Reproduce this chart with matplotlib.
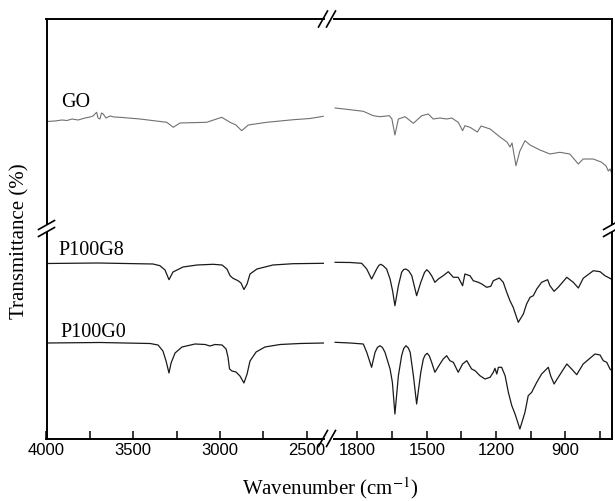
import numpy as np
import matplotlib
matplotlib.use("Agg")
import matplotlib.pyplot as plt
from matplotlib.lines import Line2D
from matplotlib.patches import Polygon
from matplotlib.ticker import MultipleLocator

go_hi_wn = [4000, 3951, 3911, 3882, 3853, 3818, 3778, 3749, 3732, 3711, 3703, 3692, 3683,
            3673, 3657, 3634, 3611, 3576, 3461, 3307, 3269, 3231, 3077, 2990, 2942, 2908,
            2875, 2837, 2731, 2577, 2481, 2405]
go_hi_t = [317.5, 318, 319, 318.5, 320, 319, 321, 322, 323, 326.7, 321, 320, 326,
           325, 321, 323, 322, 321.7, 320, 316.7, 311.7, 316, 316.7, 321.7, 316.7, 314,
           308.3, 314, 316.7, 319.3, 320.5, 322.7]

go_lo_wn = [1897, 1832, 1775, 1732, 1703, 1662, 1651, 1638, 1623, 1594, 1558, 1522, 1494,
            1472, 1443, 1414, 1392, 1364, 1345, 1335, 1313, 1281, 1265, 1226, 1183, 1153,
            1140, 1131, 1114, 1097, 1075, 1053, 1010, 967, 924, 881, 844, 823, 779, 743,
            724, 714, 707, 700]
go_lo_t = [331, 329.3, 327.7, 323.3, 322.3, 323.3, 320, 304, 320, 322.3, 315.7, 323.3, 325,
           320, 321, 320, 321, 316.7, 308.3, 313.3, 311.7, 307, 313, 310, 302, 297,
           292, 296, 273.3, 288, 298.3, 294, 289, 285, 286.7, 285, 275, 280, 280, 276.7,
           273, 268, 270, 266]

g8_hi_wn = [4000, 3703, 3386, 3346, 3317, 3294, 3271, 3213, 3133, 3040, 2988, 2960, 2942,
            2925, 2896, 2879, 2862, 2844, 2827, 2787, 2695, 2579, 2401]
g8_hi_t = [175.5, 176, 175, 173.3, 169, 159.3, 167, 172, 174, 174.7, 174, 170, 163.3,
           160.7, 158.3, 156, 149.5, 155, 165, 170, 174, 175.3, 175.7]

g8_lo_wn = [1897, 1832, 1782, 1760, 1739, 1717, 1708, 1700, 1690, 1674, 1659, 1648, 1638,
            1623, 1609, 1600, 1590, 1578, 1565, 1544, 1526, 1510, 1500, 1490, 1479, 1465,
            1450, 1429, 1407, 1385, 1364, 1345, 1335, 1313, 1299, 1277, 1262, 1241, 1223,
            1212, 1186, 1169, 1154, 1140, 1126, 1104, 1082, 1068, 1053, 1039, 1024, 1003,
            977, 967, 949, 931, 894, 866, 844, 823, 779, 750, 729, 707, 702]
g8_lo_t = [176.7, 176.5, 175.7, 170, 160, 170, 173.5, 174.7, 173.5, 170, 160, 148, 133.3,
           153.3, 166.7, 169.5, 170, 168, 163.3, 143.3, 156.7, 166.5, 169.3, 167, 163.3, 156.7,
           160, 163.3, 167.3, 161.7, 161.7, 153.3, 165, 163.3, 158.3, 156.7, 155, 151.7, 152.7,
           158.3, 161, 156.7, 146.7, 138.3, 131.7, 116.7, 125, 135, 141.7, 143.3, 150, 156.7,
           159.3, 153.3, 147.7, 151.7, 161.7, 156.7, 151, 160.7, 168.3, 167.3, 163.3, 160.7, 160]

g0_hi_wn = [4000, 3692, 3403, 3357, 3329, 3311, 3294, 3282, 3259, 3219, 3144, 3086, 3058,
            3029, 2988, 2965, 2954, 2945, 2931, 2908, 2885, 2862, 2844, 2827, 2792, 2741,
            2654, 2539, 2401]
g0_hi_t = [96, 96.5, 95.5, 94, 88, 78, 66, 76, 86, 92, 95, 94.5, 93,
           94.5, 94, 90, 82, 70, 68, 67, 63, 56, 65, 78, 87, 92,
           94.5, 95.5, 96]

g0_lo_wn = [1897, 1832, 1775, 1760, 1739, 1724, 1714, 1703, 1692, 1681, 1659, 1649, 1638,
            1623, 1609, 1600, 1590, 1580, 1572, 1558, 1544, 1526, 1515, 1507, 1498, 1489,
            1479, 1465, 1443, 1429, 1414, 1400, 1385, 1364, 1345, 1327, 1306, 1291, 1270,
            1248, 1226, 1212, 1205, 1197, 1190, 1176, 1161, 1147, 1132, 1118, 1097, 1075,
            1061, 1046, 1024, 1003, 974, 964, 949, 931, 894, 873, 851, 823, 772, 750, 736,
            721, 707, 702]
g0_lo_t = [96.7, 96, 95, 86.7, 71.7, 86.7, 91.5, 93.3, 91.5, 86.7, 70, 56.7, 25,
           63.3, 83.3, 90.5, 93.3, 91, 86.7, 63.3, 35, 66.7, 80, 84, 85.7, 83,
           76.7, 66.7, 75, 80, 83.3, 78.3, 76.7, 66.7, 75, 78.3, 70, 68.3, 63.3,
           60, 61.7, 66.7, 70.7, 65, 71.7, 71.7, 63.3, 46.7, 33.3, 25, 10, 26.7,
           43.3, 46.7, 56.7, 65, 71.7, 63.3, 55, 61.7, 75, 70, 64.3, 75, 85, 84, 78.3,
           76.7, 70, 69]

labels = ["GO", "P100G8", "P100G0"]

# --- estilo ---
plt.rcParams['mathtext.fontset'] = 'stix'
SERIF = ['Liberation Serif', 'DejaVu Serif']
SANS = ['Liberation Sans', 'DejaVu Sans']

W, H = 615, 502
fig = plt.figure(figsize=(W / 100, H / 100), dpi=100)


def px(x, y):
    # pixel -> fraccion de figura
    return x / W, 1 - y / H


# ejes partidos: 4000-2400 y 1900-700
x0, y0 = px(46.5, 439.5)
ax1 = fig.add_axes([x0, y0, (324.1 - 46.5) / W, 419.5 / H])
ax2 = fig.add_axes([334.4 / W, y0, (611.6 - 334.4) / W, 419.5 / H])

ax1.plot(go_hi_wn, go_hi_t, color='#707070', lw=0.8)
ax1.plot(g8_hi_wn, g8_hi_t, color='#1a1a1a', lw=0.9)
ax1.plot(g0_hi_wn, g0_hi_t, color='#1a1a1a', lw=0.9)
ax2.plot(go_lo_wn, go_lo_t, color='#707070', lw=0.8)
ax2.plot(g8_lo_wn, g8_lo_t, color='#1a1a1a', lw=0.9)
ax2.plot(g0_lo_wn, g0_lo_t, color='#1a1a1a', lw=0.9)

ax1.set_xlim(4000, 2400)
ax2.set_xlim(1900, 700)
ax1.xaxis.set_major_locator(MultipleLocator(500))
ax1.xaxis.set_minor_locator(MultipleLocator(250))
ax2.set_xticks([1800, 1500, 1200, 900])
ax2.set_xticks([1650, 1350, 1050, 750], minor=True)
for ax in (ax1, ax2):
    ax.set_ylim(0.5, 420)
    ax.set_yticks([])
    ax.tick_params(axis='x', which='both', direction='in', length=5.5, width=1.1,
                   top=False, pad=2.5, labelsize=12)
    for lab in ax.get_xticklabels():
        lab.set_family(SANS)
    for sp in ax.spines.values():
        sp.set_linewidth(1.4)
ax1.spines['right'].set_visible(False)
ax2.spines['left'].set_visible(False)

# etiquetas de las curvas
ax1.text(3916, 333, labels[0], fontsize=14.5, family=SERIF, ha='left', va='baseline')
ax1.text(3934, 185, labels[1], fontsize=14.5, family=SERIF, ha='left', va='baseline')
ax1.text(3922, 103, labels[2], fontsize=14.5, family=SERIF, ha='left', va='baseline')

# titulos de ejes
fig.text(*px(330, 488), 'Wavenumber (cm$^{-1}$)', fontsize=15, family=SERIF,
         ha='center', va='center')
fig.text(*px(20, 241), 'Transmittance (%)', fontsize=15, family=SERIF,
         ha='center', va='center', rotation=90)


# --- marcas de corte ---
def slash(cx, cy, dx, dy):
    xa, ya = px(cx - dx, cy + dy)
    xb, yb = px(cx + dx, cy - dy)
    fig.add_artist(Line2D([xa, xb], [ya, yb], color='black', lw=1.2,
                          transform=fig.transFigure, zorder=10))


def gap(cx, y_a, y_b, dx, dy):
    pts = [px(cx - dx, y_a + dy), px(cx + dx, y_a - dy),
           px(cx + dx, y_b - dy), px(cx - dx, y_b + dy)]
    fig.add_artist(Polygon(pts, closed=True, facecolor='white', edgecolor='none',
                           transform=fig.transFigure, zorder=9))


# eje x (arriba y abajo)
for yy in (20, 439.5):
    slash(323, yy, 4.5, 8)
    slash(331, yy, 4.5, 8)

# eje y (izquierda y derecha)
for xx in (46.5, 611.6):
    gap(xx, 226, 233, 8, 4.5)
    slash(xx, 226, 8, 4.5)
    slash(xx, 233, 8, 4.5)

fig.savefig('out.png', dpi=100)
